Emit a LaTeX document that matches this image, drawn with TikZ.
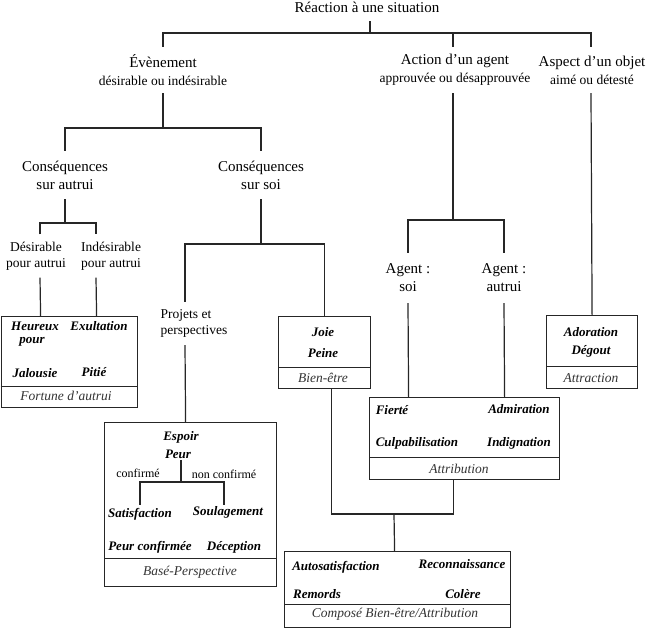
\documentclass[tikz,border=0pt]{standalone}
\usepackage{fontspec}
\setmainfont{Liberation Serif}
\begin{document}
\begin{tikzpicture}[x=1pt,y=-1pt,
  lbl/.style={inner sep=0pt, align=center, font=\fontsize{15}{18}\selectfont},
  mid/.style={inner sep=0pt, align=center, font=\fontsize{13.5}{15.5}\selectfont},
  small/.style={inner sep=0pt, font=\fontsize{12}{14}\selectfont},
  emo/.style={inner sep=0pt, font=\fontsize{13}{15}\selectfont\bfseries\itshape},
  foot/.style={inner sep=0pt, text=black!80, font=\fontsize{13.5}{15}\selectfont\itshape},
  box/.style={draw=black!85, line width=1.2pt, inner sep=0pt, anchor=north west},
  conn/.style={draw=black!85, line width=1.2pt}
]
\useasboundingbox (0,0) rectangle (646,633);

% ---------- top level ----------
\node[lbl, minimum height=28pt] (reac) at (367,7) {Réaction à une situation};
\coordinate (jtop) at (370,33);

\node[lbl, minimum height=46pt] (evt) at (163,70)
  {Évènement\\{\fontsize{13.5}{18}\selectfont désirable ou indésirable}};
\node[lbl, minimum height=46pt] (act) at (455,70)
  {Action d’un agent\\{\fontsize{13.5}{18}\selectfont approuvée ou désapprouvée}};
\node[lbl, minimum height=46pt] (asp) at (592,70)
  {Aspect d’un objet\\{\fontsize{13.5}{18}\selectfont aimé ou détesté}};

\draw[conn] ([xshift=3pt]reac.south) -- (jtop);
\draw[conn] (evt.north) |- (jtop) -| ([xshift=-1pt]asp.north);
\draw[conn] ([xshift=-2pt]act.north) -- ([xshift=-2pt]act.north |- jtop);

% ---------- Evenement branch ----------
\node[lbl, minimum height=48pt] (ca) at (65,175) {Conséquences\\sur autrui};
\node[lbl, minimum height=48pt] (cs) at (261,175) {Conséquences\\sur soi};
\coordinate (jevt) at (163,128);
\draw[conn] (evt.south) -- (jevt);
\draw[conn] (ca.north) |- (jevt) -| (cs.north);

\node[mid, minimum height=43pt] (des) at (36,256) {Désirable\\pour autrui};
\node[mid, minimum height=43pt] (ind) at (111,256) {Indésirable\\pour autrui};
\coordinate (jca) at (65,223);
\draw[conn] (ca.south) -- (jca);
\draw[conn] ([xshift=4pt]des.north) |- (jca) -| ([xshift=-15pt]ind.north);

% Fortune d'autrui box
\node[box, minimum width=136.5pt, minimum height=91pt] (fortbox) at (0.6,316) {};
\draw[conn] ([yshift=22pt]fortbox.south west) -- ([yshift=22pt]fortbox.south east);
\draw[conn] ([xshift=4pt]des.south) -- ([xshift=-28.85pt]fortbox.north);
\draw[conn] ([xshift=-15pt]ind.south) -- ([xshift=27.15pt]fortbox.north);
\node[emo] (heur) at (35,326) {Heureux};
\node[emo] (pour) at (32,342) {pour};
\node[emo] (exul) at (99,326) {Exultation};
\node[emo] (jal) at (35,373) {Jalousie};
\node[emo] (pit) at (94,372) {Pitié};
\node[foot] (fortf) at (66,396) {Fortune d’autrui};

% Consequences sur soi
\node[mid, align=left, minimum height=43pt] (proj) at (194,323.5) {Projets et\\perspectives};
\node[box, minimum width=92pt, minimum height=72pt] (joie) at (278,316) {};
\draw[conn] ([yshift=22pt]joie.south west) -- ([yshift=22pt]joie.south east);
\node[emo] (joiet) at (323,332) {Joie};
\node[emo] (peine) at (323,353) {Peine};
\node[foot] (biene) at (323,378) {Bien-être};
\coordinate (jcs) at (261,244);
\draw[conn] (cs.south) -- (jcs);
\draw[conn] ([xshift=-9pt]proj.north) |- (jcs) -| (joie.north);

% Base-Perspective box
\node[box, minimum width=172pt, minimum height=164pt] (base) at (104,422) {};
\draw[conn] ([yshift=29pt]base.south west) -- ([yshift=29pt]base.south east);
\draw[conn] ([xshift=-9pt]proj.south) -- ([xshift=-5pt]base.north);
\node[emo] (espoir) at (181,437) {Espoir};
\node[emo, minimum height=12pt] (peur) at (178,454) {Peur};
\node[small] (conf) at (138,473) {confirmé};
\node[small] (nconf) at (224,474) {non confirmé};
\node[emo, minimum height=18pt] (satis) at (140,514) {Satisfaction};
\node[emo, minimum height=14pt] (soul) at (228,512) {Soulagement};
\node[emo] (peurc) at (150,547) {Peur confirmée};
\node[emo] (decep) at (234,547) {Déception};
\node[foot] (basef) at (190,572) {Basé-Perspective};
\coordinate (jpeur) at (181,482);
\draw[conn] ([xshift=3pt]peur.south) -- (jpeur);
\draw[conn] (satis.north) |- (jpeur) -| ([xshift=-4pt]soul.north);

% ---------- Action branch ----------
\node[lbl, minimum height=50pt] (agsoi) at (408,278) {Agent :\\soi};
\node[lbl, minimum height=50pt] (agaut) at (504,278) {Agent :\\autrui};
\coordinate (jact) at (453,220);
\draw[conn] ([xshift=-2pt]act.south) -- (jact);
\draw[conn] (agsoi.north) |- (jact) -| (agaut.north);

\node[box, minimum width=190pt, minimum height=82pt] (attr) at (369,397) {};
\draw[conn] ([yshift=23pt]attr.south west) -- ([yshift=23pt]attr.south east);
\draw[conn] (agsoi.south) -- ([xshift=-56pt]attr.north);
\draw[conn] (agaut.south) -- ([xshift=40pt]attr.north);
\node[emo] (fier) at (392,410) {Fierté};
\node[emo] (admi) at (519,409) {Admiration};
\node[emo] (culp) at (417,443) {Culpabilisation};
\node[emo] (indi) at (519,443) {Indignation};
\node[foot] (attrf) at (459,469) {Attribution};

% ---------- Aspect branch ----------
\node[box, minimum width=91pt, minimum height=73pt] (attrac) at (546,315) {};
\draw[conn] ([yshift=23pt]attrac.south west) -- ([yshift=23pt]attrac.south east);
\draw[conn] ([xshift=-1pt]asp.south) -- (attrac.north);
\node[emo] (ador) at (591,332) {Adoration};
\node[emo] (degou) at (591,351) {Dégout};
\node[foot] (attracf) at (591,378) {Attraction};

% ---------- Compose ----------
\node[box, minimum width=226pt, minimum height=76pt] (comp) at (284,551) {};
\draw[conn] ([yshift=24pt]comp.south west) -- ([yshift=24pt]comp.south east);
\coordinate (jbot) at (394,514);
\draw[conn] ([xshift=7pt]joie.south) |- (jbot) -| ([xshift=-11pt]attr.south);
\draw[conn] (jbot) -- ([xshift=-3pt]comp.north);
\node[emo] (auto) at (336,567) {Autosatisfaction};
\node[emo] (reco) at (462,564) {Reconnaissance};
\node[emo] (remo) at (317,594) {Remords};
\node[emo] (cole) at (463,594) {Colère};
\node[foot] (compf) at (395,614) {Composé Bien-être/Attribution};
\end{tikzpicture}
\end{document}
